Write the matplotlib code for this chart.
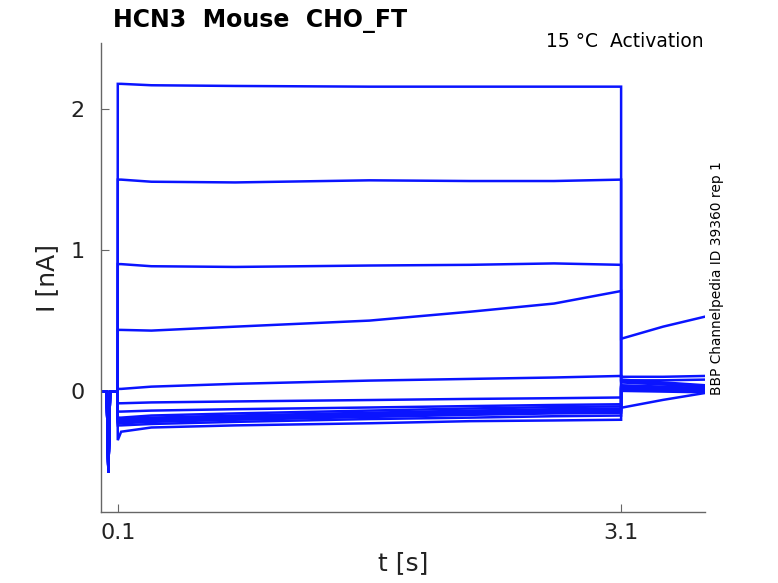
import matplotlib
matplotlib.use("Agg")
import matplotlib.pyplot as plt
import numpy as np

# ---- data ----
t_pre = [0.0, 0.034, 0.044, 0.054, 0.099]
i_pre = [-0.005, -0.005, -0.58, -0.005, -0.005]

t_step = [0.1, 0.12, 0.3, 0.8, 1.6, 2.2, 2.7, 3.1]
step_traces = [
    [2.18, 2.18, 2.17, 2.165, 2.16, 2.16, 2.16, 2.16],
    [1.50, 1.50, 1.485, 1.48, 1.495, 1.49, 1.49, 1.50],
    [0.90, 0.90, 0.885, 0.88, 0.89, 0.895, 0.905, 0.895],
    [0.433, 0.433, 0.428, 0.456, 0.499, 0.562, 0.62, 0.709],
    [0.014, 0.014, 0.03, 0.05, 0.073, 0.085, 0.095, 0.106],
    [-0.088, -0.088, -0.082, -0.075, -0.065, -0.057, -0.052, -0.047],
    [-0.147, -0.147, -0.14, -0.13, -0.118, -0.108, -0.10, -0.095],
    [-0.19, -0.19, -0.175, -0.16, -0.14, -0.125, -0.115, -0.11],
    [-0.20, -0.20, -0.19, -0.175, -0.155, -0.14, -0.13, -0.125],
    [-0.21, -0.21, -0.20, -0.185, -0.165, -0.15, -0.14, -0.135],
    [-0.22, -0.22, -0.21, -0.195, -0.175, -0.16, -0.15, -0.145],
    [-0.23, -0.23, -0.22, -0.205, -0.185, -0.17, -0.16, -0.155],
    [-0.245, -0.245, -0.235, -0.22, -0.20, -0.19, -0.18, -0.175],
    [-0.35, -0.29, -0.26, -0.245, -0.23, -0.215, -0.21, -0.205],
]

t_post = [3.1, 3.35, 3.6]
post_traces = [
    [0.08, 0.06, 0.04],
    [0.07, 0.05, 0.035],
    [0.06, 0.045, 0.03],
    [0.37, 0.456, 0.527],
    [0.10, 0.10, 0.106],
    [0.075, 0.075, 0.08],
    [0.04, 0.03, 0.02],
    [0.03, 0.02, 0.01],
    [0.025, 0.015, 0.005],
    [0.02, 0.01, 0.0],
    [0.015, 0.008, -0.002],
    [0.01, 0.005, -0.005],
    [0.0, -0.005, -0.01],
    [-0.12, -0.064, -0.015],
]

x_ticks = [0.1, 3.1]
x_ticklabels = ["0.1", "3.1"]
y_ticks = [0, 1, 2]
y_ticklabels = ["0", "1", "2"]

title = "HCN3  Mouse  CHO_FT"
subtitle = "15 °C  Activation"
side_note = "BBP Channelpedia ID 39360 rep 1"

# ---- figure ----
fig = plt.figure(figsize=(7.78, 5.83), dpi=100)
ax = fig.add_axes([101/778, 1-512/583, (705-101)/778, (512-43)/583])

blue = "#0a14ff"
for s, p in zip(step_traces, post_traces):
    t = list(t_pre) + list(t_step) + list(t_post)
    v = list(i_pre) + list(s) + list(p)
    ax.plot(t, v, color=blue, lw=1.8, solid_joinstyle="miter")

ax.set_xlim(0.0, 3.6)
ax.set_ylim(-0.86, 2.47)
ax.set_xticks(x_ticks)
ax.set_xticklabels(x_ticklabels)
ax.set_yticks(y_ticks)
ax.set_yticklabels(y_ticklabels)

for side in ("top", "right"):
    ax.spines[side].set_visible(False)
for side in ("left", "bottom"):
    ax.spines[side].set_color("#666666")
    ax.spines[side].set_linewidth(1.0)
ax.tick_params(direction="in", length=6, width=0.8, color="#666666",
               labelsize=16, labelcolor="#222222")
ax.tick_params(axis="y", pad=12)
ax.tick_params(axis="x", pad=8)

ax.set_xlabel("t [s]", fontsize=18, color="#222222", labelpad=6)
ax.set_ylabel("I [nA]", fontsize=18, color="#222222", labelpad=8)

fig.text(113/778, 1-27/583, title, fontsize=17, fontweight="bold",
         ha="left", va="baseline", color="black")
fig.text(704/778, 1-47/583, subtitle, fontsize=13.5, ha="right",
         va="baseline", color="black")
fig.text(717/778, 1-395/583, side_note, fontsize=9.9, rotation=90,
         ha="center", va="bottom", color="black")

fig.savefig("out.png", dpi=100)
